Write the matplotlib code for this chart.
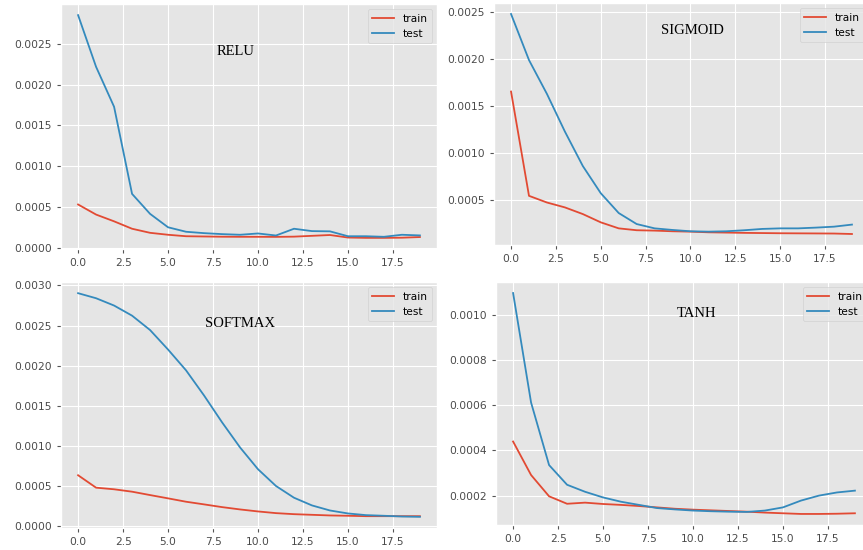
import matplotlib
matplotlib.use("Agg")
import matplotlib.pyplot as plt

plt.style.use("ggplot")

epochs = list(range(20))

relu_train = [0.00053, 0.000406, 0.000323, 0.000232, 0.000182, 0.000158, 0.00014, 0.000137,
              0.000134, 0.000133, 0.000133, 0.000132, 0.000135, 0.000145, 0.000155, 0.000124,
              0.00012, 0.00012, 0.000122, 0.00013]
relu_test = [0.002855, 0.00222, 0.00173, 0.00066, 0.000415, 0.00025, 0.000195, 0.000178,
             0.000166, 0.000158, 0.000174, 0.000149, 0.000232, 0.000203, 0.0002, 0.00014,
             0.00014, 0.000133, 0.000158, 0.00015]

sigmoid_train = [0.001655, 0.000546, 0.000475, 0.000423, 0.000352, 0.000264, 0.0002, 0.00018,
                 0.000176, 0.000169, 0.000165, 0.000158, 0.000155, 0.000152, 0.00015, 0.000148,
                 0.000147, 0.000146, 0.000145, 0.00014]
sigmoid_test = [0.00248, 0.00199, 0.00163, 0.00123, 0.000863, 0.000574, 0.000363, 0.000246,
                0.0002, 0.000183, 0.000169, 0.000165, 0.000169, 0.00018, 0.000194, 0.0002,
                0.0002, 0.000208, 0.000218, 0.00024]

softmax_train = [0.000635, 0.00048, 0.00046, 0.00043, 0.000388, 0.000347, 0.000305, 0.000272,
                 0.000238, 0.000209, 0.000184, 0.000163, 0.00015, 0.000142, 0.000134, 0.00013,
                 0.000125, 0.000125, 0.000125, 0.000125]
softmax_test = [0.002903, 0.00284, 0.002749, 0.002623, 0.002444, 0.002201, 0.001942, 0.001629,
                0.001295, 0.000982, 0.00071, 0.000501, 0.000355, 0.000259, 0.000196, 0.000159,
                0.000138, 0.00013, 0.000121, 0.000117]

tanh_train = [0.000439, 0.000291, 0.000197, 0.000164, 0.000169, 0.000163, 0.000159, 0.000154,
              0.000148, 0.000142, 0.000138, 0.000135, 0.000132, 0.000129, 0.000125, 0.000122,
              0.000119, 0.000119, 0.00012, 0.000122]
tanh_test = [0.001095, 0.000611, 0.000335, 0.000248, 0.000217, 0.000192, 0.000173, 0.000159,
             0.000145, 0.000139, 0.000134, 0.000131, 0.000129, 0.000128, 0.000134, 0.000148,
             0.000178, 0.0002, 0.000214, 0.000222]

titles = ["RELU", "SIGMOID", "SOFTMAX", "TANH"]
series = [(relu_train, relu_test), (sigmoid_train, sigmoid_test),
          (softmax_train, softmax_test), (tanh_train, tanh_test)]

W, H = 863, 550
# (left, right, top, bottom) in pixels
boxes = [(61, 437, 4, 249), (494, 869, 3, 245), (61, 437, 282, 528), (496, 872, 282, 525)]
text_pos = [(0.414, 0.79), (0.445, 0.872), (0.383, 0.817), (0.481, 0.856)]

fig = plt.figure(figsize=(W / 100, H / 100), dpi=100)
for (l, r, t, b), (tr, te), title, (tx, ty) in zip(boxes, series, titles, text_pos):
    ax = fig.add_axes([l / W, (H - b) / H, (r - l) / W, (b - t) / H])
    ax.plot(epochs, tr, label="train", linewidth=1.3)
    ax.plot(epochs, te, label="test", linewidth=1.3)
    ax.tick_params(labelsize=7.7, length=3, labelcolor="#4a4a4a")
    ax.legend(loc="upper right", fontsize=7.7)
    ax.text(tx, ty, title, transform=ax.transAxes, fontsize=10.5,
            family="Liberation Serif", color="black", va="baseline", ha="left")

fig.savefig("out.png", dpi=100)
